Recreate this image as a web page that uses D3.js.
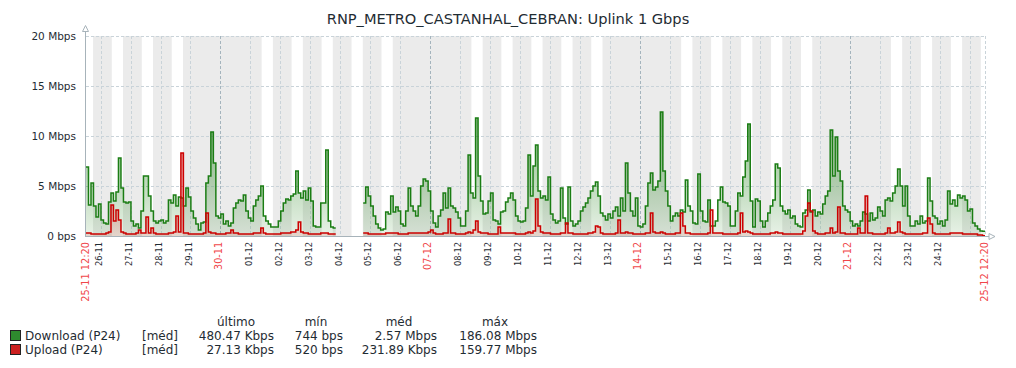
<!DOCTYPE html>
<html><head><meta charset="utf-8">
<script src="https://cdn.jsdelivr.net/npm/d3@7"></script>
<style>
body{margin:0;background:#fff;}
svg{display:block;font-family:"DejaVu Sans",sans-serif;}
</style></head><body>
<svg id="c" width="1016" height="368"></svg>
<script>
const title = "RNP_METRO_CASTANHAL_CEBRAN: Uplink 1 Gbps";
const startTime = "2025-11-25T12:20:00";
const endTime = "2025-12-25T12:20:00";
const stepHours = 2;
const workHours = [9, 18];          // Mon–Fri working period
const yTicks = [0, 5, 10, 15, 20];  // Mbps
const yTickLabels = ["0 bps", "5 Mbps", "10 Mbps", "15 Mbps", "20 Mbps"];
const seriesNames = ["Download (P24)", "Upload (P24)"];
const seriesFunc = "[méd]";
const legendHeaders = ["último", "mín", "méd", "máx"];
const downloadStats = ["480.47 Kbps", "744 bps", "2.57 Mbps", "186.08 Mbps"];
const uploadStats = ["27.13 Kbps", "520 bps", "231.89 Kbps", "159.77 Mbps"];

// Mbps, one value per 2 hours from 25-11 12:20
const download = [
6.9,3.1,5.3,3.0,1.9,3.2,1.6,1.3,1.2,3.4,4.3,3.5,
4.4,7.8,4.8,3.4,3.3,3.4,1.5,1.0,1.2,0.8,2.5,6.0,
6.0,4.0,2.5,1.5,1.3,1.5,1.6,1.3,1.5,3.6,3.3,4.1,
3.0,3.9,3.8,3.0,4.8,3.9,2.5,1.8,1.2,0.6,1.3,1.4,
5.3,6.0,10.4,7.3,2.0,1.8,2.2,1.2,1.5,1.0,1.3,2.8,
3.3,3.6,3.5,4.1,2.5,1.8,1.5,3.0,3.6,4.0,5.0,2.0,
1.5,1.2,0.9,0.9,0.9,1.5,2.5,3.3,3.7,3.6,4.0,4.2,
6.5,4.3,3.8,4.5,3.6,4.8,3.5,1.0,0.9,0.9,3.3,3.3,
8.6,1.5,0.9,0.8,null,null,null,null,null,null,null,null,
null,null,null,3.3,4.9,4.0,3.0,2.0,1.2,0.8,0.6,0.7,
2.4,2.2,4.0,2.4,2.9,2.5,1.2,1.0,2.5,4.8,3.0,2.5,
2.0,3.0,5.0,5.7,5.5,4.5,2.5,1.3,0.9,2.0,2.6,4.3,
2.8,4.8,3.0,2.8,2.4,1.8,1.0,1.0,2.5,8.1,4.3,3.8,
11.8,6.0,3.5,2.2,2.3,3.5,4.3,1.6,1.5,1.2,2.4,2.5,
3.4,3.8,4.3,3.6,2.0,1.5,1.4,1.5,2.8,8.1,4.0,7.0,
9.1,4.5,3.8,4.0,3.6,5.9,2.2,1.6,1.3,1.5,4.8,1.8,
1.2,4.9,1.5,1.0,1.2,1.5,2.5,2.9,3.3,3.8,4.5,5.0,
5.4,4.0,2.3,2.0,1.6,2.2,1.8,2.5,2.9,2.0,3.8,2.5,
7.3,4.3,2.5,2.0,3.8,1.0,0.9,1.2,3.0,5.3,6.3,4.6,
4.9,5.5,12.4,6.5,4.5,3.0,1.5,2.0,2.3,2.0,2.6,2.4,
5.6,3.0,2.5,1.3,1.2,6.2,2.5,1.5,1.4,3.6,1.0,1.0,
1.5,3.6,4.9,3.4,3.3,3.0,1.0,1.0,2.5,4.3,4.0,5.9,
7.5,11.2,3.5,0.9,3.7,3.5,1.5,0.9,1.5,2.3,3.0,3.6,
7.2,6.8,3.0,2.5,2.2,2.6,1.8,2.0,1.2,1.0,0.9,2.3,
2.6,4.6,2.4,2.6,2.0,2.4,2.2,3.2,4.0,4.5,10.6,6.0,
9.9,6.5,5.5,3.0,2.6,2.4,1.5,1.0,1.2,1.0,1.5,2.4,
2.2,1.5,2.3,1.6,1.8,2.9,2.5,2.0,3.6,3.8,3.5,4.3,
5.0,6.7,5.0,3.0,5.0,2.0,1.0,1.0,1.5,1.2,2.0,1.3,
1.5,5.8,3.5,2.0,1.8,1.2,1.5,1.0,1.6,4.5,3.2,3.6,
3.0,4.1,3.8,4.0,3.6,2.5,2.7,1.3,1.0,0.7,0.5,0.48
];
const upload = [
0.3,0.3,0.2,0.2,0.2,0.2,0.2,0.2,0.3,0.4,3.1,1.5,
2.6,1.6,0.4,0.3,0.2,0.2,0.2,0.2,0.3,0.6,0.3,0.3,
1.9,0.3,0.8,0.3,0.2,0.2,0.2,0.2,0.2,0.3,0.3,0.4,
2.0,0.4,8.3,0.3,0.3,0.2,0.2,0.2,0.2,0.2,0.2,0.3,
2.3,0.4,0.3,0.3,0.2,0.2,0.2,0.2,0.3,0.3,0.6,0.3,
0.3,0.2,0.2,0.2,0.2,0.2,0.2,0.3,0.3,0.3,0.8,0.3,
0.2,0.2,0.2,0.2,0.2,0.2,0.3,0.3,0.3,0.3,0.4,0.4,
0.6,1.4,0.4,0.3,0.3,0.2,0.2,0.2,0.2,0.2,0.3,0.3,
0.3,0.2,0.2,0.2,null,null,null,null,null,null,null,null,
null,null,null,0.3,0.3,0.2,0.2,0.2,0.2,0.2,0.2,0.2,
0.3,0.3,0.3,0.3,0.3,0.2,0.2,0.2,0.2,0.3,0.3,0.3,
0.3,0.3,0.3,0.3,0.3,0.4,0.6,0.3,0.2,0.2,0.2,0.3,
0.3,1.7,0.3,0.3,0.2,0.2,0.2,0.2,0.3,0.4,0.3,0.6,
1.5,0.4,0.3,0.3,0.3,0.2,0.2,0.2,0.2,0.9,0.3,0.3,
0.3,0.3,0.3,0.3,0.2,0.2,0.2,0.2,0.3,0.4,0.3,0.5,
3.7,1.0,0.4,0.3,0.3,0.3,0.2,0.2,0.2,0.2,0.3,0.3,
1.3,0.3,0.3,0.2,0.2,0.2,0.2,0.2,0.2,0.3,0.3,0.4,
1.0,0.9,0.3,0.2,0.2,0.2,0.2,0.2,0.3,1.6,0.3,0.3,
0.4,0.3,0.3,0.2,0.2,0.2,0.2,0.2,0.3,0.3,2.3,0.4,
0.3,0.3,0.4,0.3,0.2,0.2,0.2,0.2,0.3,0.3,2.3,1.0,
0.3,0.3,0.2,0.2,0.2,0.2,0.2,0.2,0.2,0.3,2.6,0.3,
0.3,0.3,0.3,0.2,0.2,0.2,0.2,0.2,0.2,0.3,2.3,0.4,
0.5,0.4,0.3,0.2,0.2,0.2,0.2,0.2,0.2,0.2,0.3,0.3,
0.4,0.3,0.3,0.2,0.2,0.2,0.2,0.2,0.2,0.2,0.2,0.5,
2.0,3.3,2.5,0.5,0.3,0.2,0.2,0.2,0.3,0.3,0.8,0.3,
0.4,2.9,0.3,0.3,0.2,0.2,0.2,0.2,0.2,0.8,0.3,0.3,
4.0,0.3,0.3,0.2,0.2,0.2,0.2,0.2,0.3,0.8,0.3,0.3,
0.4,1.4,0.4,0.3,0.2,0.2,0.2,0.2,0.2,0.2,0.2,0.3,
0.3,1.8,1.2,0.3,0.2,0.2,0.2,0.2,0.2,0.2,0.3,0.3,
0.3,0.3,0.3,0.2,0.2,0.2,0.2,0.2,0.2,0.1,0.1,0.03
];

const svg = d3.select("#c");
const t0 = new Date(startTime), t1 = new Date(endTime);
const L = 86, R = 985, T = 36, B = 236;
const x = d3.scaleTime().domain([t0, t1]).range([L, R]);
const y = d3.scaleLinear().domain([0, 20]).range([B, T]);
const txt = "#1f2c33", red = "#f0464a", grid = "#c9d3d9", gridMain = "#a4b4bd", axisC = "#a7b3ba";

svg.append("rect").attr("width", 1016).attr("height", 368).attr("fill", "#fff");

// gradients
const defs = svg.append("defs");
function grad(id, rgb, a0, a1) {
  const g = defs.append("linearGradient").attr("id", id)
    .attr("gradientUnits", "userSpaceOnUse").attr("x1", 0).attr("y1", T).attr("x2", 0).attr("y2", B);
  g.append("stop").attr("offset", "0%").attr("stop-color", rgb).attr("stop-opacity", a0);
  g.append("stop").attr("offset", "100%").attr("stop-color", rgb).attr("stop-opacity", a1);
}
grad("gG", "rgb(26,124,17)", 0.8, 0.1);
grad("gR", "rgb(200,0,0)", 0.8, 0.12);

// non-working time shading
const nonWork = [];
let cur = t0;
d3.timeDay.range(d3.timeDay.floor(t0), t1).forEach(day => {
  const wd = day.getDay();
  if (wd >= 1 && wd <= 5) {
    const ws = d3.timeHour.offset(day, workHours[0]), we = d3.timeHour.offset(day, workHours[1]);
    if (ws > cur) nonWork.push([cur, ws < t1 ? ws : t1]);
    if (we > cur) cur = we;
  }
});
if (cur < t1) nonWork.push([cur, t1]);
svg.append("g").selectAll("rect").data(nonWork.filter(d => d[1] > d[0])).join("rect")
  .attr("x", d => x(d[0])).attr("width", d => x(d[1]) - x(d[0]))
  .attr("y", T).attr("height", B - T).attr("fill", "#ebebeb");

// horizontal grid
svg.append("g").attr("transform", `translate(${L},0)`)
  .call(d3.axisLeft(y).tickValues(yTicks.filter(v => v > 0)).tickSize(-(R - L)).tickFormat(""))
  .call(g => g.select(".domain").remove())
  .call(g => g.selectAll("line").attr("stroke", grid).attr("stroke-dasharray", "3,2").attr("shape-rendering", "crispEdges"));

// vertical grid at midnights
const days = d3.timeDay.range(d3.timeDay.ceil(t0), t1);
svg.append("g").selectAll("line").data(days).join("line")
  .attr("x1", d => Math.round(x(d)) + 0.5).attr("x2", d => Math.round(x(d)) + 0.5)
  .attr("y1", T).attr("y2", B)
  .attr("stroke", d => d.getDay() === 0 ? gridMain : grid)
  .attr("stroke-dasharray", "3,2");
svg.append("line").attr("x1", R + 0.5).attr("x2", R + 0.5).attr("y1", T).attr("y2", B)
  .attr("stroke", grid).attr("stroke-dasharray", "3,2");

// series
function pts(arr) {
  const p = [];
  arr.forEach((v, i) => {
    const a = d3.timeHour.offset(t0, i * stepHours), b = d3.timeHour.offset(t0, (i + 1) * stepHours);
    p.push({ t: a, v }); p.push({ t: b, v });
  });
  return p;
}
function drawSeries(arr, fill, stroke) {
  const p = pts(arr);
  const area = d3.area().defined(d => d.v != null).x(d => x(d.t)).y0(y(0)).y1(d => y(d.v));
  const line = d3.line().defined(d => d.v != null).x(d => x(d.t)).y(d => y(d.v));
  svg.append("path").attr("d", area(p)).attr("fill", fill);
  svg.append("path").attr("d", line(p)).attr("fill", "none").attr("stroke", stroke)
    .attr("stroke-width", 1.5).attr("stroke-linejoin", "miter");
}
drawSeries(download, "url(#gG)", "#1b7d14");
drawSeries(upload, "url(#gR)", "#cc0000");

// y labels
svg.append("g").attr("transform", `translate(76,0)`)
  .call(d3.axisLeft(y).tickValues(yTicks).tickSize(0).tickPadding(0).tickFormat((d, i) => yTickLabels[i]))
  .call(g => g.select(".domain").remove())
  .call(g => g.selectAll("text").attr("font-size", "10.5px").attr("font-family", "DejaVu Sans").attr("fill", txt));

// axes lines + arrows
svg.append("line").attr("x1", L - 0.5).attr("x2", L - 0.5).attr("y1", 31).attr("y2", B + 1).attr("stroke", axisC);
svg.append("path").attr("d", `M${L - 3.5},31.5 L${L - 0.5},25.5 L${L + 2.5},31.5 Z`).attr("fill", "#fff").attr("stroke", axisC);
svg.append("line").attr("x1", L - 1).attr("x2", 989).attr("y1", B + 0.5).attr("y2", B + 0.5).attr("stroke", axisC);
svg.append("path").attr("d", `M989,233.5 L995,236.5 L989,239.5 Z`).attr("fill", "#fff").attr("stroke", axisC);

// x labels
const fmt = d3.timeFormat("%d-%m");
const fmtFull = d3.timeFormat("%d-%m %H:%M");
const lab = days.filter(d => x(t1) - x(d) > 20);
svg.append("g").selectAll("text").data(lab).join("text")
  .attr("transform", d => `translate(${x(d) + 1.2},242) rotate(-90)`)
  .attr("text-anchor", "end")
  .attr("font-size", d => d.getDay() === 0 ? "9.6px" : "8.3px")
  .attr("fill", d => d.getDay() === 0 ? red : txt)
  .text(d => fmt(d));
svg.append("g").selectAll("text").data([t0, t1]).join("text")
  .attr("transform", d => `translate(${x(d) + 3},242) rotate(-90)`)
  .attr("text-anchor", "end").attr("font-size", "9.8px").attr("fill", red)
  .text(d => fmtFull(d));

// title
svg.append("text").attr("x", 508).attr("y", 24).attr("text-anchor", "middle")
  .attr("font-size", "14.6px").attr("fill", txt).text(title);

// legend
const lg = svg.append("g").attr("font-size", "12px").attr("fill", txt);
const headX = [236, 316, 399, 495];
const colR = [274, 343, 437, 537];
lg.selectAll(".h").data(legendHeaders).join("text").attr("class", "h")
  .attr("x", (d, i) => headX[i]).attr("y", 326).attr("text-anchor", "middle").text(d => d);
const rows = [[seriesNames[0], downloadStats, "#2e8b2e"], [seriesNames[1], uploadStats, "#cc2020"]];
rows.forEach((r, k) => {
  const yb = 340 + k * 14;
  lg.append("rect").attr("x", 10.5).attr("y", yb - 9.5).attr("width", 10).attr("height", 10)
    .attr("fill", r[2]).attr("stroke", "#222");
  lg.append("text").attr("x", 25).attr("y", yb).text(r[0]);
  lg.append("text").attr("x", 142).attr("y", yb).text(seriesFunc);
  r[1].forEach((s, i) => lg.append("text").attr("x", colR[i]).attr("y", yb).attr("text-anchor", "end").text(s));
});
</script>
</body></html>
